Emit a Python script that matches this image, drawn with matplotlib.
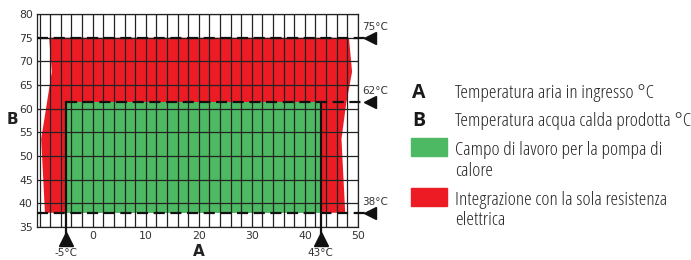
import matplotlib
matplotlib.use("Agg")
import matplotlib.pyplot as plt
import numpy as np

# red envelope (electric resistance only), left edge then right edge, bottom to top
red_left_x = [-9.0, -9.7, -7.7, -8.2]
red_left_y = [38, 53.6, 67.8, 75]
red_right_x = [48.3, 48.9, 47.8, 46.9, 47.6]
red_right_y = [75, 67.8, 61.2, 53.6, 38]

# heat pump working field
green_x = [-5, 43]
green_y = [38, 61.5]

limits_t = [75, 61.5, 38]
limits_lbl = ["75°C", "62°C", "38°C"]
air_t = [-5, 43]
air_lbl = ["-5°C", "43°C"]

legend_lbl = ["Temperatura aria in ingresso °C",
              "Temperatura acqua calda prodotta °C",
              "Campo di lavoro per la pompa di\ncalore",
              "Integrazione con la sola resistenza\nelettrica"]

RED = "#ED1C24"
GREEN = "#4DB962"
cond = dict(family="Open Sans", stretch="condensed")

fig = plt.figure(figsize=(6.91, 2.60), dpi=100)
ax = fig.add_axes([0.0535, 0.127, 0.4645, 0.819])
ax.set_xlim(-10.5, 50)
ax.set_ylim(35, 80)

px = red_left_x + red_right_x
py = red_left_y + red_right_y
ax.fill(px, py, color=RED, lw=0, zorder=1)
ax.fill([green_x[0], green_x[1], green_x[1], green_x[0]],
        [green_y[0], green_y[0], green_y[1], green_y[1]],
        color=GREEN, lw=0, zorder=2)

# grid
for gx in np.arange(-10, 51, 2):
    ax.axvline(gx, color="#222222", lw=0.9, zorder=3)
for gy in np.arange(35, 81, 5):
    ax.axhline(gy, color="#222222", lw=0.9, zorder=3)

# dashed limit lines with arrows
for t, lbl in zip(limits_t, limits_lbl):
    x0 = green_x[0] if t == 61.5 else -10.5
    ax.plot([x0, 51.5], [t, t], color="#111111", lw=1.6, ls=(0, (5, 2.5)),
            clip_on=False, zorder=4)
    ax.plot(52.3, t, marker="<", ms=9, color="#111111", clip_on=False, zorder=5)
    ax.text(50.8, t + 2.3, lbl, fontsize=7.5, color="#333333", ha="left",
            va="center", clip_on=False)

for t, lbl in zip(air_t, air_lbl):
    ax.plot([t, t], [green_y[1], 33.5], color="#111111", lw=1.6, clip_on=False, zorder=4)
    ax.plot(t, 32.5, marker="^", ms=9.5, color="#111111", clip_on=False, zorder=5)
    ax.text(t, 29.6, lbl, fontsize=7.5, color="#333333", ha="center",
            va="center", clip_on=False)

ax.set_xticks(np.arange(0, 51, 10))
ax.set_yticks(np.arange(35, 81, 5))
ax.tick_params(length=0, labelsize=7.8, labelcolor="#333333", pad=3)
for s in ax.spines.values():
    s.set_color("#222222")
    s.set_linewidth(0.9)

fig.text(199 / 691, 1 - 252 / 260, "A", fontsize=11, fontweight="bold",
         ha="center", va="center", color="#222222")
fig.text(12 / 691, 1 - 120 / 260, "B", fontsize=11, fontweight="bold",
         ha="center", va="center", color="#222222")

# legend
lx_key = 412 / 691
lx_txt = 455 / 691
fs = 14
fig.text(lx_key, 1 - 93 / 260, "A", fontsize=fs, fontweight="bold", **cond,
         ha="left", va="center", color="#1a1a1a")
fig.text(lx_txt, 1 - 93 / 260, legend_lbl[0], fontsize=fs, **cond,
         ha="left", va="center", color="#262626")
fig.text(lx_key, 1 - 121 / 260, "B", fontsize=fs, fontweight="bold", **cond,
         ha="left", va="center", color="#1a1a1a")
fig.text(lx_txt, 1 - 121 / 260, legend_lbl[1], fontsize=fs, **cond,
         ha="left", va="center", color="#262626")

fig.patches.append(plt.Rectangle((411 / 691, 1 - 156 / 260), 36 / 691, 18 / 260,
                                 transform=fig.transFigure, color=GREEN))
fig.text(lx_txt, 1 - 160.5 / 260, legend_lbl[2], fontsize=fs, **cond,
         ha="left", va="center", color="#262626", linespacing=1.2)
fig.patches.append(plt.Rectangle((411 / 691, 1 - 206 / 260), 36 / 691, 18 / 260,
                                 transform=fig.transFigure, color=RED))
fig.text(lx_txt, 1 - 210 / 260, legend_lbl[3], fontsize=fs, **cond,
         ha="left", va="center", color="#262626", linespacing=1.2)

fig.savefig("out.png", dpi=100)
